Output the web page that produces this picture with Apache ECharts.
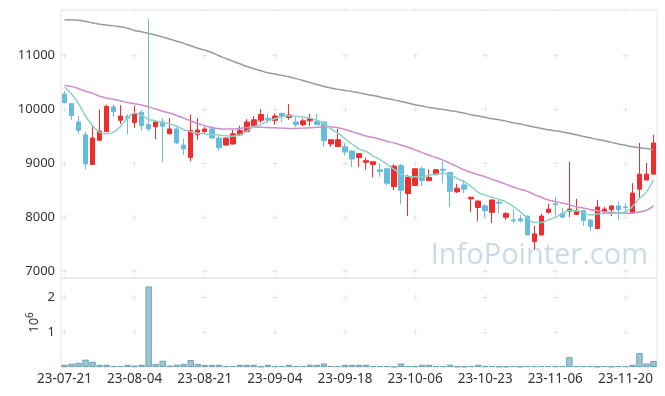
<!DOCTYPE html>
<html><head><meta charset="utf-8">
<script src="https://cdn.jsdelivr.net/npm/echarts@6/dist/echarts.min.js"></script>
<style>html,body{margin:0;padding:0;background:#fff}#c{width:665px;height:396px}</style>
</head><body><div id="c"></div>
<script>
// ---- data ----
const dates = ['23-07-21','23-07-24','23-07-25','23-07-26','23-07-27','23-07-28','23-07-31','23-08-01','23-08-02','23-08-03',
'23-08-04','23-08-07','23-08-08','23-08-09','23-08-10','23-08-11','23-08-14','23-08-16','23-08-17','23-08-18',
'23-08-21','23-08-22','23-08-23','23-08-24','23-08-25','23-08-28','23-08-29','23-08-30','23-08-31','23-09-01',
'23-09-04','23-09-05','23-09-06','23-09-07','23-09-08','23-09-11','23-09-12','23-09-13','23-09-14','23-09-15',
'23-09-18','23-09-19','23-09-20','23-09-21','23-09-22','23-09-25','23-09-26','23-09-27','23-10-04','23-10-05',
'23-10-06','23-10-10','23-10-11','23-10-12','23-10-13','23-10-16','23-10-17','23-10-18','23-10-19','23-10-20',
'23-10-23','23-10-24','23-10-25','23-10-26','23-10-27','23-10-30','23-10-31','23-11-01','23-11-02','23-11-03',
'23-11-06','23-11-07','23-11-08','23-11-09','23-11-10','23-11-13','23-11-14','23-11-15','23-11-16','23-11-17',
'23-11-20','23-11-21','23-11-22','23-11-23','23-11-24'];
const openP = [10290,10110,9770,9530,8980,9430,9590,10050,9800,9870,
9760,9950,9720,9680,9770,9550,9640,9340,9110,9540,
9590,9640,9470,9340,9360,9530,9590,9700,9800,9840,
9800,9930,9850,9770,9720,9790,9780,9770,9360,9310,
9310,9230,9110,9020,8980,8880,8900,8570,8960,8440,
8590,8900,8680,8790,8890,8830,8470,8600,8340,8180,
8210,8090,8280,8000,7950,7970,8020,7550,7670,8090,
8250,8070,8110,8050,8120,7950,7790,8100,8140,8210,
8190,8080,8520,8690,8800];
const closeP = [10130,9890,9610,8990,9470,9600,10060,9960,9880,9840,
9920,9700,9640,9770,9690,9640,9380,9270,9610,9620,
9640,9470,9290,9470,9550,9610,9770,9810,9910,9810,
9880,9870,9900,9720,9790,9830,9720,9420,9440,9440,
9210,9080,9180,9050,9030,8850,8630,8950,8500,8740,
8900,8680,8740,8880,8870,8480,8540,8520,8370,8300,
8120,8320,8260,8070,7930,7930,7670,7690,8020,8150,
8230,8000,8150,8120,7940,7830,8190,8150,8210,8140,
8180,8450,8800,8800,9380];
const lowP = [10110,9810,9550,8890,8980,9420,9580,9860,9730,9540,
9660,9610,9590,9450,9020,9540,9360,9160,9040,9440,
9560,9460,9240,9330,9350,9510,9590,9690,9750,9750,
9720,9770,9810,9670,9690,9690,9710,9310,9310,9310,
9150,8930,8930,8880,8740,8750,8600,8500,8250,8020,
8580,8580,8670,8780,8630,8190,8450,8450,8100,7920,
8000,7890,8070,7950,7890,7900,7660,7400,7660,8070,
8040,7990,8000,8040,7840,7750,7780,8070,8020,7950,
8110,8070,8350,8690,8800];
const highP = [10350,10120,9880,9590,9710,10000,10090,10100,10080,9910,
10070,9990,11680,9780,9840,9840,9670,9460,9910,9840,
9680,9690,9530,9480,9620,9700,9820,9880,10010,9930,
9930,9940,10100,9860,9830,9920,9920,9780,9440,9640,
9380,9240,9180,9110,9030,9000,8910,8980,8990,8790,
8900,8940,8890,8890,9040,8850,8620,8690,8380,8310,
8250,8330,8330,8090,8150,8040,8030,7840,8060,8250,
8370,8170,9030,8340,8130,7960,8320,8190,8220,8290,
8260,8630,9380,9010,9530];
const volume = [65000,93000,120000,210000,150000,65000,65000,30000,30000,65000,
40000,65000,2300000,90000,180000,40000,65000,90000,200000,90000,
60000,60000,65000,30000,30000,65000,65000,65000,15000,65000,
30000,30000,65000,30000,30000,65000,65000,100000,30000,30000,
65000,65000,65000,65000,30000,30000,30000,15000,100000,30000,
30000,65000,65000,30000,30000,65000,15000,15000,30000,65000,
30000,30000,15000,15000,30000,15000,30000,30000,30000,30000,
30000,30000,280000,30000,30000,30000,15000,30000,15000,30000,
30000,65000,400000,100000,170000];
const maShort = [10420,10290,10110,9880,9700,9580,9550,9580,9690,9840,
9930,9890,9820,9790,9760,9730,9690,9630,9590,9560,
9545,9535,9525,9515,9505,9530,9600,9680,9720,9790,
9830,9865,9884,9875,9860,9841,9800,9740,9640,9560,
9460,9360,9270,9220,9140,9070,8980,8890,8800,8760,
8750,8750,8780,8800,8815,8780,8720,8660,8570,8460,
8410,8370,8330,8280,8200,8100,7990,7900,7900,7950,
8000,8070,8120,8120,8080,8040,8060,8070,8070,8080,
8100,8200,8350,8470,8700];
const maMid = [10445,10430,10390,10340,10300,10250,10215,10190,10160,10130,
10110,10085,10050,10010,9970,9935,9890,9840,9790,9740,
9700,9665,9645,9640,9640,9650,9665,9675,9670,9665,
9660,9655,9650,9650,9655,9660,9670,9680,9680,9660,
9630,9590,9550,9510,9480,9450,9410,9380,9340,9300,
9250,9200,9150,9110,9060,9000,8940,8880,8830,8790,
8750,8700,8660,8610,8560,8520,8480,8420,8370,8320,
8290,8260,8230,8190,8170,8140,8120,8100,8090,8080,
8075,8080,8100,8130,8210];
const maLong = [11670,11665,11660,11640,11610,11585,11570,11555,11540,11510,
11470,11445,11415,11385,11350,11310,11270,11230,11185,11140,
11105,11060,11000,10950,10900,10850,10800,10760,10720,10685,
10660,10635,10610,10575,10540,10500,10465,10430,10400,10375,
10355,10335,10310,10285,10260,10235,10205,10180,10150,10120,
10090,10065,10040,10020,10000,9980,9960,9935,9905,9880,
9855,9830,9810,9785,9755,9730,9705,9675,9650,9625,
9605,9585,9560,9530,9500,9475,9445,9420,9390,9360,
9335,9310,9290,9275,9260];
const priceMin = 6870, priceMax = 11850, priceTickStep = 1000;
const volMax = 2540000, volTickStep = 1000000;
const watermark = 'InfoPointer.com';

// ---- layout ----
const W = 665, L = 61, R = 8, T1 = 10, H1 = 268, T2 = 278, H2 = 89;
const N = dates.length;
const bw = (W - L - R) / N;
const dash = 5;
const hType = [dash, 10 * bw - dash], hOff = -(bw / 2 - dash / 2);
const P1 = H1 * priceTickStep / (priceMax - priceMin);
const c1 = (priceMax - Math.floor(priceMax / priceTickStep) * priceTickStep) / (priceMax - priceMin) * H1;
const P2 = H2 * volTickStep / volMax;
const c2 = (volMax - Math.floor(volMax / volTickStep) * volTickStep) / volMax * H2;
const crossColor = '#e4e4e4';
const FONT = '"Noto Sans", sans-serif';
const UP = '#ee2e2e', DOWN = '#66bddb';

const kData = dates.map((d, i) => [openP[i], closeP[i], lowP[i], highP[i]]);

const chart = echarts.init(document.getElementById('c'), null, {renderer: 'canvas'});
chart.setOption({
  animation: false,
  backgroundColor: '#fff',
  grid: [
    {left: L, right: R, top: T1, height: H1, show: true, borderColor: '#e6e6e6', borderWidth: 1},
    {left: L, right: R, top: T2, height: H2, show: true, borderColor: '#e6e6e6', borderWidth: 1}
  ],
  xAxis: [
    {type: 'category', gridIndex: 0, data: dates, boundaryGap: true,
     axisLine: {show: false}, axisTick: {show: false}, axisLabel: {show: false},
     splitLine: {show: true, interval: 9, alignWithLabel: true,
       lineStyle: {color: crossColor, width: 1, type: [dash, P1 - dash], dashOffset: -(c1 - dash / 2)}}},
    {type: 'category', gridIndex: 1, data: dates, boundaryGap: true,
     axisLine: {show: false}, axisTick: {show: false},
     axisLabel: {interval: 9, color: '#333', fontSize: 13.5, fontFamily: FONT, margin: 5},
     splitLine: {show: true, interval: 9, alignWithLabel: true,
       lineStyle: {color: crossColor, width: 1, type: [dash, P2 - dash], dashOffset: -(c2 - dash / 2)}}}
  ],
  yAxis: [
    {type: 'value', gridIndex: 0, min: priceMin, max: priceMax, splitNumber: 5, scale: true,
     axisLine: {show: false}, axisTick: {show: false},
     axisLabel: {color: '#333', fontSize: 13, fontFamily: FONT, margin: 6, showMinLabel: false, showMaxLabel: false,
       formatter: v => String(v)},
     splitLine: {show: true, lineStyle: {color: crossColor, width: 1, type: hType, dashOffset: hOff}}},
    {type: 'value', gridIndex: 1, min: 0, max: volMax, interval: volTickStep,
     name: '10{s|6}', nameLocation: 'middle', nameRotate: 90, nameGap: 18, nameMoveOverlap: false,
     nameTextStyle: {color: '#333', fontSize: 13, fontFamily: FONT, lineHeight: 18,
       rich: {s: {fontSize: 10, fontFamily: FONT, color: '#333', verticalAlign: 'top', lineHeight: 18}}},
     axisLine: {show: false}, axisTick: {show: false},
     axisLabel: {color: '#333', fontSize: 13, fontFamily: FONT, margin: 6, showMinLabel: false, showMaxLabel: false,
       formatter: v => String(v / 1000000)},
     splitLine: {show: true, lineStyle: {color: crossColor, width: 1, type: hType, dashOffset: hOff}}}
  ],
  graphic: [{type: 'text', x: 648, y: 256, z: -1, silent: true,
    style: {text: watermark, font: '29px "Open Sans", sans-serif', fill: 'rgba(186,210,225,0.8)', textAlign: 'right', textVerticalAlign: 'middle'}}],
  series: [
    {type: 'candlestick', xAxisIndex: 0, yAxisIndex: 0, data: kData, barWidth: 5, z: 2,
     itemStyle: {color: UP, color0: DOWN, borderColor: UP, borderColor0: DOWN, borderWidth: 1}},
    {type: 'line', xAxisIndex: 0, yAxisIndex: 0, data: maLong, smooth: true, showSymbol: false, z: 3,
     lineStyle: {color: '#9a9a9a', width: 1.5}},
    {type: 'line', xAxisIndex: 0, yAxisIndex: 0, data: maMid, smooth: true, showSymbol: false, z: 3,
     lineStyle: {color: '#cc8ecc', width: 1.5}},
    {type: 'line', xAxisIndex: 0, yAxisIndex: 0, data: maShort, smooth: true, showSymbol: false, z: 3,
     lineStyle: {color: '#8fd0c6', width: 1.5}},
    {type: 'bar', xAxisIndex: 1, yAxisIndex: 1, data: volume, barCategoryGap: '8%', z: 2,
     itemStyle: {color: '#9cc4d2', borderColor: '#6ea4b8', borderWidth: 1}}
  ]
});
</script>
</body></html>
